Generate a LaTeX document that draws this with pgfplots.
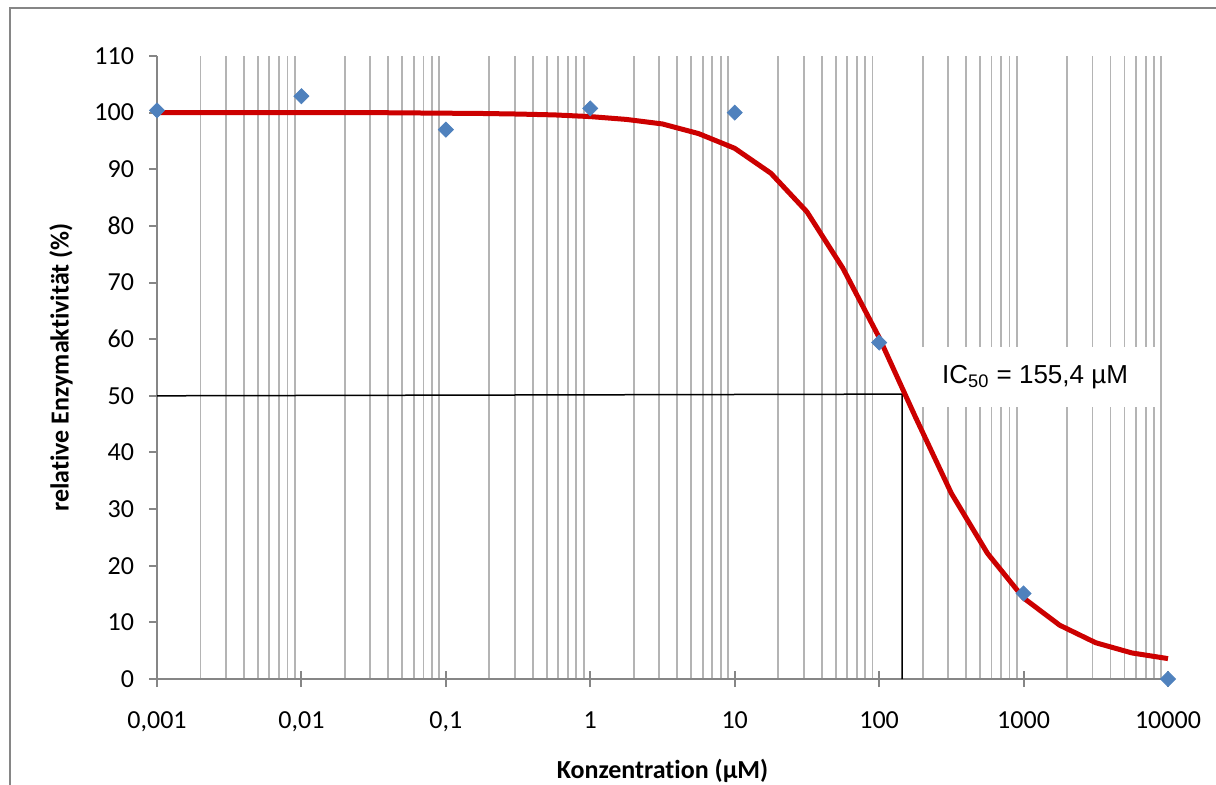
\documentclass[border=0pt]{standalone}
\usepackage{pgfplots}
\pgfplotsset{compat=1.18}
\usepackage{fontspec}
\setmainfont{Carlito}[Ligatures=NoCommon]
\newfontfamily\arialfont{Liberation Sans}
\definecolor{framegray}{RGB}{134,134,134}
\definecolor{gridgray}{RGB}{180,180,180}
\definecolor{axgray}{RGB}{134,134,134}
\definecolor{curvered}{RGB}{204,0,0}
\definecolor{ptblue}{RGB}{79,129,189}

\pgfplotstableread{
x y
0.001 100.4
0.01 102.9
0.1 97.0
1 100.75
10 100.0
100 59.4
1000 15.1
10000 0
}\measured

\pgfplotstableread{
x y
0.001 100
0.00178 100
0.00316 100
0.00562 100
0.01 100
0.0178 100
0.0316 100
0.0562 99.95
0.1 99.9
0.178 99.85
0.316 99.75
0.562 99.6
1 99.3
1.78 98.8
3.16 98.0
5.62 96.3
10 93.7
17.8 89.3
31.6 82.5
56.2 72.5
100 60.3
178 46.3
316 32.8
562 22.2
1000 14.3
1778 9.5
3162 6.4
5623 4.6
10000 3.6
}\fitcurve

\begin{document}
\begin{tikzpicture}
\useasboundingbox (0,0) rectangle (608pt,-392.5pt);
\draw[framegray, line width=1pt] (5pt,-400pt) -- (5pt,-4pt) -- (615pt,-4pt);
\begin{axis}[
  at={(78.5pt,-339.5pt)}, anchor=south west,
  scale only axis, width=505.5pt, height=311.5pt,
  xmode=log, xmin=0.001, xmax=10000, ymin=0, ymax=110,
  clip=false,
  axis x line*=bottom, axis y line*=left,
  axis line style={axgray, line width=1pt},
  xtick={0.001,0.01,0.1,1,10,100,1000,10000},
  xticklabels={{0,001},{0,01},{0,1},1,10,100,1000,10000},
  minor xtick={0.002,0.003,0.004,0.005,0.006,0.007,0.008,0.009,
    0.02,0.03,0.04,0.05,0.06,0.07,0.08,0.09,
    0.2,0.3,0.4,0.5,0.6,0.7,0.8,0.9,
    2,3,4,5,6,7,8,9,
    20,30,40,50,60,70,80,90,
    200,300,400,500,600,700,800,900,
    2000,3000,4000,5000,6000,7000,8000,9000},
  ytick={0,10,...,110},
  xminorgrids, minor grid style={gridgray, line width=0.9pt},
  tick align=outside, major tick length=4pt, minor tick length=0pt,
  major tick style={axgray, line width=1pt},
  /pgf/number format/assume math mode=true,
  tick label style={font=\fontsize{13}{15}\selectfont, text=black},
  xticklabel style={anchor=north, yshift=-9pt},
  yticklabel style={anchor=east, xshift=-4pt},
  xlabel={Konzentration (µM)},
  ylabel={relative Enzymaktivität (\%)},
  label style={font=\bfseries\fontsize{13}{15}\selectfont},
  xlabel style={at={(axis description cs:0.5,-0.147)}, anchor=center},
  ylabel style={at={(axis description cs:-0.095,0.5)}, anchor=center},
]
\pgfplotsinvokeforeach{0.001,0.01,0.1,1,10,100,1000,10000}{
  \draw[axgray, line width=1pt] (axis cs:#1,0) -- ++(0pt,4pt);
}
\node[fill=white, minimum width=123pt, minimum height=30pt, inner sep=0pt,
  font=\arialfont\fontsize{13}{15}\selectfont] at (axis cs:1202,53.3)
  {IC\textsubscript{50} = 155,4 µM};
\addplot[black, line width=0.75pt] coordinates {(0.001,50) (144,50.3) (144,0)};
\addplot[curvered, line width=2.5pt, line join=round] table[x=x,y=y] {\fitcurve};
\addplot[only marks, mark=square*, mark size=2.65pt, color=ptblue,
  mark options={rotate=45, fill=ptblue, draw=ptblue}] table[x=x,y=y] {\measured};
\end{axis}
\end{tikzpicture}
\end{document}
